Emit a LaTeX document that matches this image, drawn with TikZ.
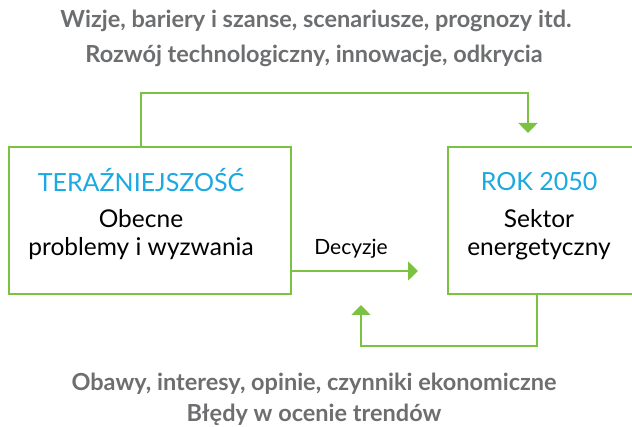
\documentclass[tikz,border=0pt]{standalone}
\usepackage{fontspec}
\setmainfont{Lato}
\usetikzlibrary{arrows.meta}
\definecolor{lgreen}{HTML}{7CC242}
\definecolor{tgray}{HTML}{6D6E70}
\definecolor{tblue}{HTML}{1BA9E1}
\tikzset{
  box/.style={draw=lgreen, line width=1.6pt, fill=white},
  conn/.style={draw=lgreen, line width=1.6pt, -{Triangle[length=10pt,width=19pt]}},
  head/.style={font=\bfseries\fontsize{23.5}{27}\selectfont, text=tgray, inner sep=0pt, anchor=base},
  ttl/.style={font=\fontsize{25}{28}\selectfont, text=tblue, inner sep=0pt, anchor=base},
  body/.style={font=\fontsize{24.5}{28}\selectfont, text=black, inner sep=0pt, anchor=base},
  dlab/.style={font=\fontsize{21}{24}\selectfont, text=black, inner sep=0pt, anchor=base},
}
\begin{document}
\begin{tikzpicture}[x=1pt,y=-1pt]
\useasboundingbox (0,0) rectangle (632,427);
\node[box, minimum width=282pt, minimum height=147pt, anchor=north west, inner sep=0pt] (L) at (8,146) {};
\node[box, minimum width=200pt, minimum height=147pt, anchor=north west, inner sep=0pt] (R) at (447,146) {};
\node[ttl] (Lt) at (141,192) {TERAŹNIEJSZOŚĆ};
\node[body] (Lb1) at (141,228) {Obecne};
\node[body] (Lb2) at (141,256) {problemy i wyzwania};
\node[ttl] (Rt) at (539,191) {ROK 2050};
\node[body] (Rb1) at (539,228) {Sektor};
\node[body] (Rb2) at (539,256) {energetyczny};
\node[dlab] (dec) at (351,255) {Decyzje};
\coordinate (d1) at (418,271);
\coordinate (t1) at (141,93);
\coordinate (t2) at (528,93);
\coordinate (t3) at (528,133);
\coordinate (b1) at (537,346);
\coordinate (b2) at (361,346);
\coordinate (b3) at (361,305);
\draw[conn] (L.north -| t1) -- (t1) -- (t2) -- (t3);
\draw[conn] (L.east |- d1) -- (d1);
\draw[conn] (R.south -| b1) -- (b1) -- (b2) -- (b3);
\node[head] (h1) at (316,28) {Wizje, bariery i szanse, scenariusze, prognozy itd.};
\node[head] (h2) at (314,63) {Rozwój technologiczny, innowacje, odkrycia};
\node[head] (h3) at (314,391) {Obawy, interesy, opinie, czynniki ekonomiczne};
\node[head] (h4) at (314,421) {Błędy w ocenie trendów};
\end{tikzpicture}
\end{document}
